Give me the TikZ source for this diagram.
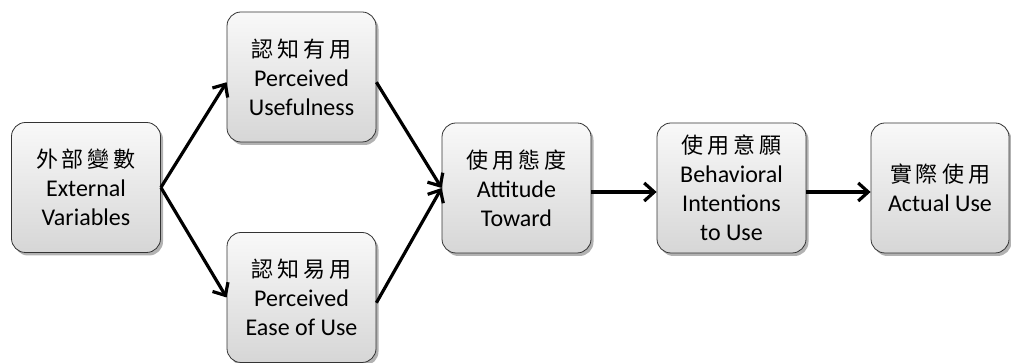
\documentclass[tikz,border=0pt]{standalone}
\usepackage{fontspec}
\setmainfont{Carlito}
\newfontfamily\cjk{Noto Sans CJK TC}
\usetikzlibrary{arrows.meta,shadows,calc}
\newcommand{\zh}[4]{{\cjk\fontsize{22}{29}\selectfont #1\kern4pt#2\kern4pt#3\kern4pt#4}}
\begin{document}
\begin{tikzpicture}[x=1pt,y=1pt,
 box/.style={draw=black!80, line width=0.8pt, rounded corners=14pt,
   top color=gray!5, bottom color=gray!32,
   minimum width=149pt, minimum height=130pt, align=center, inner sep=0pt,
   font=\fontsize{24}{29}\selectfont,
   drop shadow={shadow xshift=2.5pt, shadow yshift=-3pt, fill=black, opacity=0.3}},
 conn/.style={line width=3.2pt, -{Straight Barb[length=10pt,width=18pt]}}
]
\useasboundingbox (0,0) rectangle (1011,363);
\node[box] (ext) at (86,175.5) {\zh{外}{部}{變}{數}\\External\\Variables};
\node[box] (use) at (301.5,286) {\zh{認}{知}{有}{用}\\Perceived\\Usefulness};
\node[box] (ease) at (301.5,65.5) {\zh{認}{知}{易}{用}\\Perceived\\Ease of Use};
\node[box] (att) at (516.5,175) {\zh{使}{用}{態}{度}\\Attitude\\Toward};
\node[box] (bi) at (731.5,175) {\zh{使}{用}{意}{願}\\Behavioral\\Intentions\\to Use};
\node[box, minimum width=138pt] (act) at (940,175) {\zh{實}{際}{使}{用}\\Actual Use};
\draw[conn] (ext.east) -- (use.184);
\draw[conn] (ext.east) -- (ease.west);
\draw[conn] (use.-4) -- (att.west);
\draw[conn] (ease.-4) -- (att.west);
\draw[conn] ([yshift=-4pt]att.east) -- ([yshift=-4pt]bi.west);
\draw[conn] ([yshift=-4pt]bi.east) -- ([yshift=-4pt]act.west);
\end{tikzpicture}
\end{document}
